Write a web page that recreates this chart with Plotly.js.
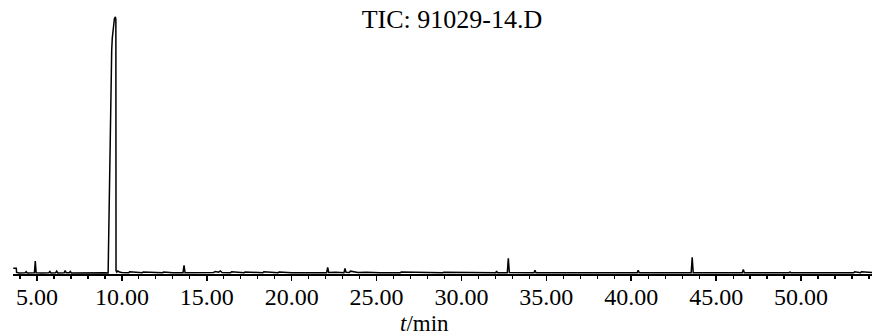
<!DOCTYPE html>
<html>
<head>
<meta charset="utf-8">
<script src="https://cdn.plot.ly/plotly-3.0.1.min.js"></script>
<style>
  html, body { margin: 0; padding: 0; background: #ffffff; }
  #chart { width: 874px; height: 336px; }
</style>
</head>
<body>
<div id="chart"></div>
<script>
// Retention time (min) and TIC abundance (relative units)
var timeMin = [
  3.60, 3.78, 3.80, 3.95, 4.30, 4.36, 4.42, 4.85, 4.90, 4.95, 5.30, 5.70, 5.76, 5.82,
  6.10, 6.16, 6.22, 6.60, 6.66, 6.72, 6.90, 6.96, 7.02, 7.60, 8.00, 8.50, 9.00, 9.19,
  9.21, 9.30, 9.33, 9.36, 9.40, 9.435, 9.505, 9.56, 9.62, 9.645, 9.655, 9.70, 9.76, 9.85, 10.00,
  10.40, 10.46, 11.20, 11.26, 12.00, 12.40, 12.46, 13.00, 13.60, 13.66, 13.72, 14.50,
  15.40, 15.50, 15.70, 15.80, 15.90, 16.40, 16.46, 17.20, 17.26, 18.30, 18.36, 19.20,
  19.26, 20.00, 20.80, 21.50, 22.06, 22.12, 22.18, 22.60, 23.08, 23.14, 23.20, 23.40,
  23.46, 23.90, 24.40, 25.20, 26.40, 26.46, 27.80, 28.90, 28.96, 30.20, 31.20, 32.02,
  32.07, 32.12, 32.70, 32.76, 32.82, 33.40, 34.27, 34.33, 34.39, 35.50, 36.60, 36.66,
  38.00, 39.20, 40.35, 40.41, 40.47, 41.50, 42.60, 43.53, 43.59, 43.65, 44.60, 45.60,
  46.54, 46.60, 46.66, 47.80, 49.30, 49.35, 49.40, 51.00, 52.50, 53.10, 53.16, 53.50,
  53.56, 54.18
];
var ticAbundance = [
  1.9, 1.9, 0.3, 0.1, 0.2, 0.6, 0.1, 0.2, 4.7, 0.2, 0.1, 0.2, 0.7, 0.1,
  0.2, 0.8, 0.1, 0.2, 1.0, 0.2, 0.2, 0.7, 0.1, 0.2, 0.3, 0.1, 0.2, 0.1,
  9.3, 32.7, 55.0, 78.0, 87.0, 91.8, 96.9, 99.3, 100.0, 99.0, 1.0, 0.4, 0.9, 0.5, 0.3,
  0.2, 0.6, 0.2, 0.5, 0.2, 0.2, 0.5, 0.2, 0.2, 3.1, 0.2, 0.2,
  0.3, 0.7, 0.4, 0.9, 0.3, 0.2, 0.6, 0.2, 0.5, 0.2, 0.6, 0.2,
  0.5, 0.2, 0.3, 0.2, 0.2, 2.3, 0.3, 0.4, 0.2, 1.9, 0.4, 0.3,
  0.8, 0.3, 0.4, 0.2, 0.2, 0.5, 0.2, 0.2, 0.4, 0.2, 0.2, 0.2,
  0.8, 0.2, 0.2, 5.8, 0.3, 0.2, 0.2, 1.2, 0.2, 0.2, 0.2, 0.4,
  0.2, 0.2, 0.2, 1.2, 0.2, 0.2, 0.2, 0.2, 6.2, 0.2, 0.2, 0.2,
  0.2, 1.5, 0.2, 0.2, 0.2, 0.5, 0.2, 0.2, 0.2, 0.2, 0.6, 0.2,
  0.6, 0.3
];
var tickValues = [5, 10, 15, 20, 25, 30, 35, 40, 45, 50];
var tickLabels = ["5.00", "10.00", "15.00", "20.00", "25.00", "30.00", "35.00", "40.00", "45.00", "50.00"];
var chartTitle = "TIC: 91029-14.D";
var xTitle = "<i>t</i>/min";

var serif = "Liberation Serif, Times New Roman, serif";

var trace = {
  x: timeMin,
  y: ticAbundance,
  type: "scatter",
  mode: "lines",
  line: { color: "#000000", width: 1.5 },
  hoverinfo: "skip",
  showlegend: false
};

var layout = {
  width: 874,
  height: 336,
  margin: { l: 13, r: 2, t: 10, b: 62 },
  paper_bgcolor: "#ffffff",
  plot_bgcolor: "#ffffff",
  title: {
    text: chartTitle,
    font: { family: serif, size: 26, color: "#000000" },
    x: 0.511, xanchor: "center", xref: "paper",
    y: 0.945, yanchor: "middle", yref: "container"
  },
  xaxis: {
    range: [3.587, 54.18],
    showline: true, linecolor: "#000000", linewidth: 1.5,
    showgrid: false, zeroline: false,
    ticks: "outside", ticklen: 5, tickwidth: 1.5, tickcolor: "#000000",
    tickmode: "array", tickvals: tickValues, ticktext: tickLabels,
    tickfont: { family: serif, size: 24, color: "#000000" },
    ticklabelstandoff: -4,
    minor: { dtick: 1, tick0: 0, ticks: "outside", ticklen: 3, tickwidth: 1.2, tickcolor: "#000000", showgrid: false },
    fixedrange: true
  },
  yaxis: {
    visible: false,
    range: [-0.3, 102.7],
    showgrid: false, zeroline: false,
    fixedrange: true
  },
  annotations: [{
    text: xTitle,
    xref: "paper", yref: "paper",
    x: 0.4785, y: -0.186,
    xanchor: "center", yanchor: "middle",
    showarrow: false,
    font: { family: serif, size: 23, color: "#000000" }
  }]
};

Plotly.newPlot("chart", [trace], layout, { displayModeBar: false, staticPlot: true });
</script>
</body>
</html>
